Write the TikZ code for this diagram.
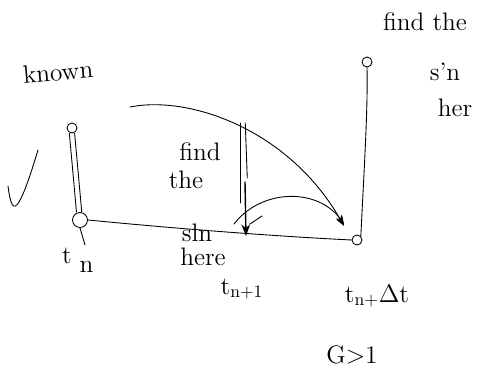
\documentclass[tikz,border=0pt]{standalone}
\usetikzlibrary{arrows.meta,positioning}

\begin{document}
\begin{tikzpicture}[
    x=0.02cm, y=-0.02cm,
    ink/.style={line width=0.5pt, line cap=round, line join=round},
    note/.style={font=\Large, inner sep=1pt},
    dot/.style={circle, draw, line width=0.5pt, inner sep=0pt, minimum size=0.2cm},
    >=Stealth
]
\useasboundingbox (0,0) rectangle (488,376);

% points on the time line
\node[dot] (known) at (72,128) {};
\node[dot, minimum size=0.3cm] (tn) at (80,220) {};
\node[dot] (tend) at (357,240) {};
\node[dot] (goal) at (367,62) {};
\coordinate (peak) at (240,123);
\coordinate (tnext) at (246,236);
\coordinate (arcstart) at (130,107);

% labels
\node[note, rotate=5] (knownlbl) at (58,72) {known};
\node[note] (tlbl) at (67,256) {t};
\node[note, below right=-4pt and 2pt of tlbl] (nlbl) {n};
\node[note] (tnextlbl) at (242,289) {t\textsubscript{n+1}};
\node[note] (tendlbl) at (377,296) {t\textsubscript{n+}$\Delta$t};
\node[note] (find) at (200,152) {find};
\node[note] (the) at (186,180) {the};
\node[note] (sln) at (197,233) {sln};
\node[note] (here) at (203,257) {here};
\node[note] (find2) at (425,22) {find the};
\node[note] (sln2) at (445,72) {s'n};
\node[note] (here2) at (455,108) {her};
\node[note] (cond) at (352,355) {G$>$1};

% tick
\draw[ink] (8,186) .. controls (12,218) and (18,216) .. (38,150);

% known value down to t_n
\draw[ink] ([xshift=-1.5pt]known.south) -- ([xshift=-2pt]tn.north);
\draw[ink] ([xshift=1.5pt]known.south) -- ([xshift=1pt]tn.north);
\draw[ink] (tn.south) -- (85,245);

% time axis
\draw[ink] (tn.east) .. controls (170,228) and (270,236) .. (tend.west);
\draw[ink] (tend.north east) .. controls (364,170) and (368,110) .. (goal.south);

% big step
\draw[ink, ->] (arcstart) .. controls (190,95) and (290,130) .. (344,226);
\draw[ink] (peak) -- ++(0,80);
\draw[ink] ([xshift=3pt]peak) -- ++(2,55);
\draw[ink, ->, thick] (245,182) -- (tnext);

% small step
\draw[ink, ->] (234,224) .. controls (262,188) and (318,188) .. (344,224);
\draw[ink] (250,224) -- (262,216);
\end{tikzpicture}
\end{document}
